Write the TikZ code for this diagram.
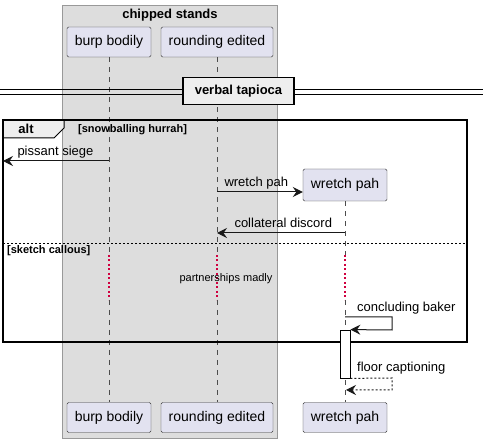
\documentclass[tikz,border=0pt]{standalone}
\usepackage{fontspec}
\setmainfont{Liberation Sans}
\usetikzlibrary{arrows.meta}
\definecolor{partfill}{HTML}{E2E2F0}
\definecolor{boxgray}{HTML}{DDDDDD}
\definecolor{tabgray}{HTML}{EEEEEE}
\definecolor{delayred}{HTML}{D0003F}
\tikzset{
    part/.style={draw=black!80, fill=partfill, rounded corners=1.5pt, minimum height=30pt, inner sep=0pt, font=\fontsize{14}{16}\selectfont},
    lifeline/.style={draw=black!70, line width=0.5pt, dash pattern=on 5pt off 5pt},
    delayline/.style={color=delayred, line width=1.1pt, dash pattern=on 2pt off 2.5pt},
    msg/.style={-{Stealth[length=10pt,width=10pt,inset=3.5pt]}, line width=1pt, draw=black!90},
    lbl/.style={font=\fontsize{13}{15}\selectfont, inner sep=0pt, text=black},
    boldlbl/.style={font=\bfseries\fontsize{13}{15}\selectfont, inner sep=0pt},
    guardlbl/.style={font=\bfseries\fontsize{11}{13}\selectfont, inner sep=0pt},
}
\begin{document}
\begin{tikzpicture}[x=1pt,y=-1pt]
    \useasboundingbox (0,0) rectangle (483,443);
    %% box round the first two participants
    \draw[fill=boxgray, draw=black!40] (62,5) rectangle (277,438);
    \node[boldlbl] (grouptitle) at (170,15) {chipped stands};
    %% participants
    \node[part, minimum width=84pt] (burpT) at (109,42) {burp bodily};
    \node[part, minimum width=112pt] (roundT) at (217,42) {rounding edited};
    \node[part, minimum width=84pt] (burpB) at (109,417.5) {burp bodily};
    \node[part, minimum width=112pt] (roundB) at (217,417.5) {rounding edited};
    \node[part, minimum width=84pt] (wretchB) at (345,417.5) {wretch pah};
    %% delay band
    \coordinate (delayA) at (0,255);
    \coordinate (delayB) at (0,300);
    %% lifelines
    \foreach \upper/\lower in {burpT/burpB, roundT/roundB} {
        \draw[lifeline] (\upper.south) -- (\upper.south |- delayA);
        \draw[delayline] (\upper.south |- delayA) -- (\upper.south |- delayB);
        \draw[lifeline] (\upper.south |- delayB) -- (\lower.north);
    }
    \node[part, minimum width=84pt, minimum height=32pt] (wretchT) at (345,185) {wretch pah};
    \draw[lifeline] (wretchT.south) -- (wretchT.south |- delayA);
    \draw[delayline] (wretchT.south |- delayA) -- (wretchT.south |- delayB);
    \draw[lifeline] (wretchT.south |- delayB) -- (wretchB.north);
    \node[font=\fontsize{11}{13}\selectfont, inner sep=0pt] (delaytxt) at (226,279) {partnerships madly};
    %% divider
    \draw[line width=0.8pt] (0,89) -- (483,89);
    \draw[line width=0.8pt] (0,94) -- (483,94);
    \node[boldlbl, draw, line width=1.5pt, fill=tabgray, minimum width=111pt, minimum height=27pt] (divider) at (238.5,91) {verbal tapioca};
    %% alt frame
    \coordinate (altNW) at (3,120);
    \coordinate (altSE) at (467,342);
    \draw[fill=tabgray, line width=1pt] (3,120) -- (64,120) -- (64,128) -- (54,138) -- (3,138);
    \draw[line width=1.5pt] (altNW) rectangle (altSE);
    \node[boldlbl] (alttxt) at (26,129) {alt};
    \node[guardlbl, anchor=west] (guardA) at (78,130) {[snowballing hurrah]};
    \draw[line width=0.6pt, dash pattern=on 2pt off 2pt] (altNW |- 0,243) -- (altSE |- 0,243);
    \node[guardlbl, anchor=west] (guardB) at (7,251) {[sketch callous]};
    %% messages
    \coordinate (leftend) at (3,161);
    \draw[msg] (burpT.south |- leftend) -- (leftend)
        node[lbl, pos=1, anchor=base west, xshift=14pt, yshift=5pt] {pissant siege};
    \draw[msg] (roundT.south |- 0,192) -- (wretchT.west |- 0,192)
        node[lbl, pos=0, anchor=base west, xshift=7pt, yshift=5pt] {wretch pah};
    \draw[msg] (wretchT.south |- 0,233) -- (roundT.south |- 0,233)
        node[lbl, pos=1, anchor=base west, xshift=17pt, yshift=5pt] {collateral discord};
    %% activation and self message
    \node[draw, fill=white, line width=0.8pt, minimum width=10pt, minimum height=48pt, inner sep=0pt] (act) at (345,354) {};
    \draw[msg] (wretchT.south |- 0,317) -- (392,317) -- (392,330) -- (act.north east);
    \node[lbl, anchor=base west] (selftxt) at (357,312) {concluding baker};
    \draw[msg, dash pattern=on 2pt off 2pt] (act.south east) -- (392,378) -- (392,390) -- ([xshift=1pt]wretchT.south |- 0,390);
    \node[lbl, anchor=base west] (rettxt) at (357,372) {floor captioning};
\end{tikzpicture}
\end{document}
